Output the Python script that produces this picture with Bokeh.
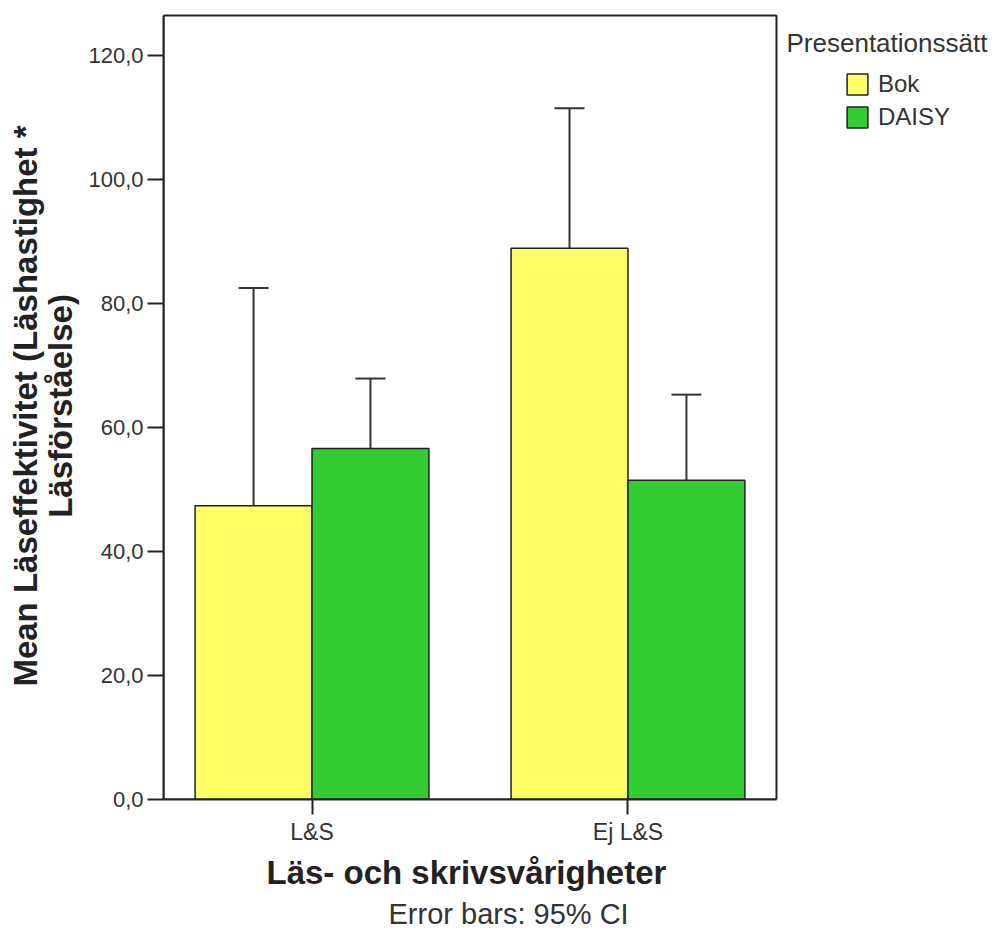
from bokeh.plotting import figure
from bokeh.models import (Range1d, FixedTicker, ColumnDataSource, Whisker, TeeHead,
                          Legend, LegendItem, Label, Title, BoxAnnotation)
from bokeh.embed import file_html
from bokeh.resources import INLINE

# ---- data ----
categories = ["L&S", "Ej L&S"]
series = ["Bok", "DAISY"]
bok_mean = [47.4, 88.9]
bok_lower = [12.6, 66.3]
bok_upper = [82.5, 111.5]
daisy_mean = [56.6, 51.5]
daisy_lower = [45.0, 37.9]
daisy_upper = [67.9, 65.3]
y_ticks = [0, 20, 40, 60, 80, 100, 120]
y_tick_labels = ["0,0", "20,0", "40,0", "60,0", "80,0", "100,0", "120,0"]
colors = ["#FFFF66", "#33CC33"]
x_title = "Läs- och skrivsvårigheter"
y_title = "Mean Läseffektivitet (Läshastighet *\nLäsförståelse)"
legend_title_text = "Presentationssätt"
footnote = "Error bars: 95% CI"

FONT = "Liberation Sans"
DARK = "#222222"

centers = [i + 0.5 for i in range(len(categories))]
bar_w = 0.37
offsets = [-bar_w / 2, bar_w / 2]

# plotting box spans x 0.03..1.97 and y 0..126.45; the frame extends further
# to the right so the legend can sit inside it
X0, X1 = 0.03, 1.97
Y_TOP = 126.45

p = figure(width=1000, height=931,
           x_range=Range1d(X0, 2.679), y_range=Range1d(0, 126.94),
           output_backend="svg", toolbar_location=None,
           min_border_left=163, min_border_right=0,
           min_border_top=12, min_border_bottom=132)

p.background_fill_color = "white"
p.border_fill_color = "white"
p.xgrid.visible = False
p.ygrid.visible = False
p.outline_line_color = None

box = BoxAnnotation(left=X0, right=X1, bottom=0, top=Y_TOP,
                    fill_alpha=0, line_color=DARK, line_alpha=1.0, line_width=2)
p.add_layout(box)

renderers = []
for s_i, (name, means, lows, ups) in enumerate([
        ("Bok", bok_mean, bok_lower, bok_upper),
        ("DAISY", daisy_mean, daisy_lower, daisy_upper)]):
    xs = [c + offsets[s_i] for c in centers]
    src = ColumnDataSource(dict(x=xs, top=means, lower=lows, upper=ups))
    r = p.vbar(x="x", top="top", bottom=0, width=bar_w, source=src,
               fill_color=colors[s_i], line_color=DARK, line_width=1.5)
    renderers.append(r)
    w = Whisker(base="x", upper="upper", lower="lower", source=src,
                line_color="#333333", line_width=2,
                upper_head=TeeHead(size=30, line_color="#333333", line_width=2),
                lower_head=TeeHead(size=30, line_color="#333333", line_width=2))
    p.add_layout(w)

# ---- axes ----
ax = p.xaxis[0]
ax.bounds = (X0, X1)
ax.ticker = FixedTicker(ticks=centers)
ax.major_label_overrides = {c: lab for c, lab in zip(centers, categories)}
ax.minor_tick_line_color = None
ax.major_tick_in = 0
ax.major_tick_out = 15
ax.major_tick_line_width = 2
ax.major_tick_line_color = DARK
ax.axis_line_color = DARK
ax.axis_line_width = 2
ax.major_label_text_font = FONT
ax.major_label_text_font_size = "23px"
ax.major_label_text_color = "#333333"
ax.major_label_standoff = 4

ay = p.yaxis[0]
ay.bounds = (0, Y_TOP)
ay.ticker = FixedTicker(ticks=y_ticks)
ay.major_label_overrides = {t: lab for t, lab in zip(y_ticks, y_tick_labels)}
ay.minor_tick_line_color = None
ay.major_tick_in = 0
ay.major_tick_out = 16
ay.major_tick_line_width = 2
ay.major_tick_line_color = DARK
ay.axis_line_color = DARK
ay.axis_line_width = 2
ay.major_label_text_font = FONT
ay.major_label_text_font_size = "22px"
ay.major_label_text_color = "#333333"
ay.major_label_standoff = 4
ay.axis_label = y_title
ay.axis_label_text_font = FONT
ay.axis_label_text_font_size = "33px"
ay.axis_label_text_font_style = "bold"
ay.axis_label_text_color = DARK
ay.axis_label_text_line_height = 0.95
ay.axis_label_standoff = 6

# ---- x axis title (as a below title, so it centres under the plotting box) ----
xt = Title(text=x_title, align="left", offset=103,
           text_font=FONT, text_font_size="33px", text_font_style="bold",
           text_color=DARK, standoff=8)
p.add_layout(xt, "below")

# ---- footnote ----
foot = Title(text=footnote, align="left", offset=225,
             text_font=FONT, text_font_size="29px", text_font_style="normal",
             text_color="#333333", standoff=2)
p.add_layout(foot, "below")

# ---- legend (inside the extended frame, right of the plotting box) ----
legend = Legend(items=[LegendItem(label=series[i], renderers=[renderers[i]])
                       for i in range(len(series))],
                location=(681, 668), padding=0, margin=0,
                glyph_width=26, glyph_height=26, label_height=26,
                spacing=5, label_standoff=8,
                label_text_font=FONT, label_text_font_size="24px",
                label_text_color="#333333",
                border_line_color=None, background_fill_alpha=0)
p.add_layout(legend, "center")

legend_title = Label(x=623, y=757, x_units="screen", y_units="screen",
                     text=legend_title_text, text_font=FONT,
                     text_font_size="26px", text_color="#333333",
                     text_baseline="middle", text_align="left")
p.add_layout(legend_title)

open("out.html", "w").write(file_html(p, INLINE))
